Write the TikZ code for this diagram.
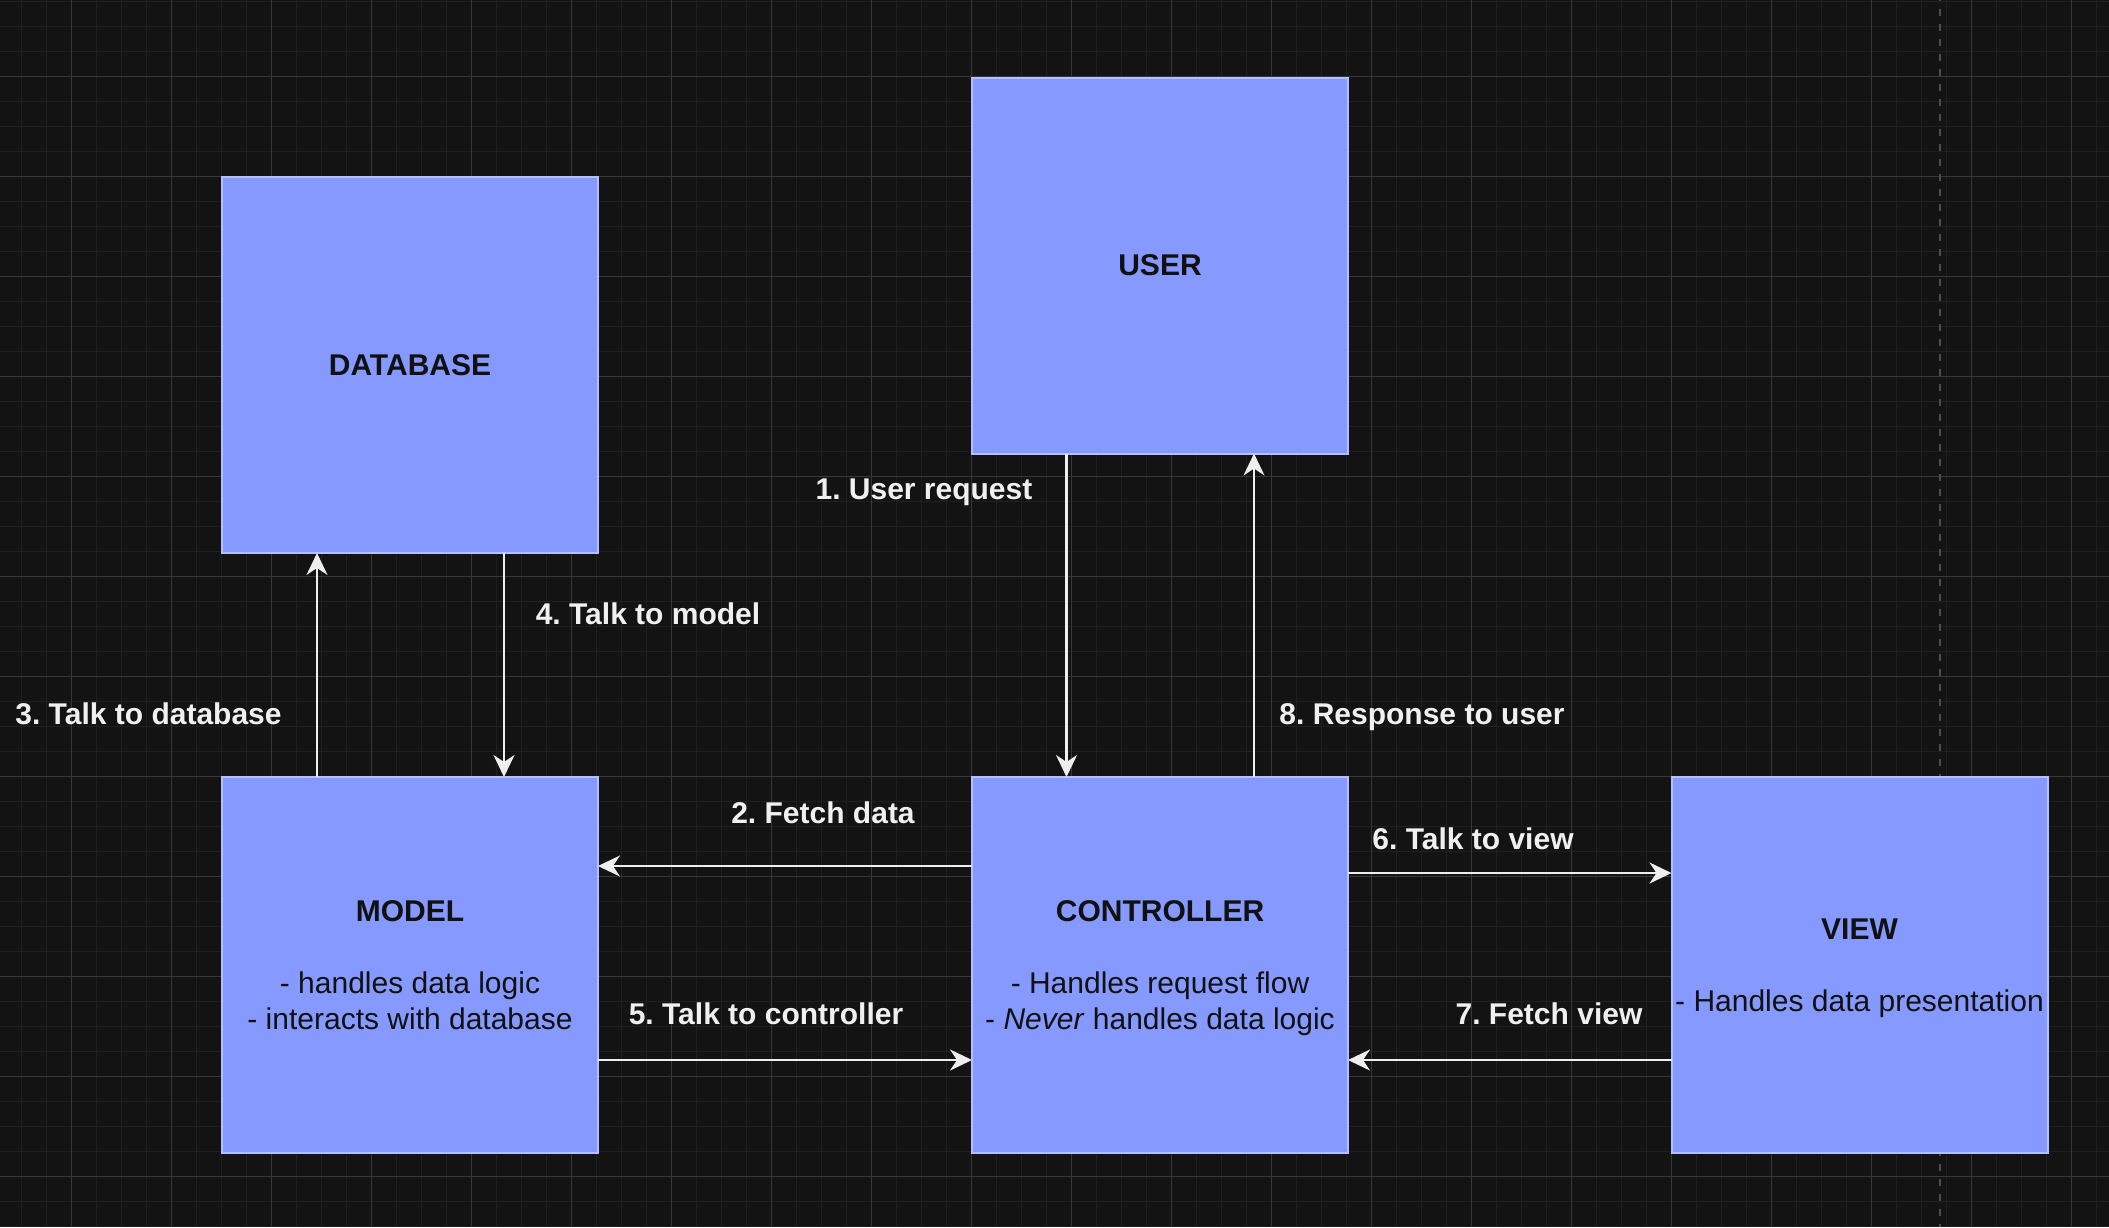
\documentclass[tikz,border=0pt]{standalone}
\usepackage{fontspec}
\setmainfont{Liberation Sans}
\frenchspacing
\usetikzlibrary{arrows.meta}
\definecolor{bgc}{HTML}{131313}
\definecolor{minorc}{HTML}{1F1F1F}
\definecolor{majorc}{HTML}{383838}
\definecolor{dashc}{HTML}{4D4D4D}
\definecolor{boxfill}{HTML}{8599FF}
\definecolor{boxline}{HTML}{B4BFFF}
\definecolor{boxtext}{HTML}{111111}
\definecolor{arrc}{HTML}{EEEEEE}
\definecolor{labc}{HTML}{F0F0F0}
\tikzset{
  mvcbox/.style={draw=boxline, line width=2pt, fill=boxfill, minimum width=376pt, minimum height=376pt,
    inner sep=0pt, outer sep=0pt, align=center, text=boxtext, text depth=0pt, font=\fontsize{30}{36}\selectfont},
  arr/.style={draw=arrc, line width=2.4pt, -{Stealth[length=22pt,width=21pt,inset=7pt]}},
  lab/.style={anchor=base, text=labc, inner sep=0pt, font=\fontsize{30}{36}\selectfont\bfseries}
}
\begin{document}
\begin{tikzpicture}[x=1pt,y=-1pt]
\useasboundingbox (0,0) rectangle (2109,1227);
\fill[bgc] (0,0) rectangle (2109,1227);
% minor grid
\foreach \i in {0,...,85} { \draw[minorc, line width=1.1pt] ({-3.6+25*\i},0) -- ({-3.6+25*\i},1227); }
\foreach \j in {0,...,49} { \draw[minorc, line width=1.1pt] (0,{1.3+25*\j}) -- (2109,{1.3+25*\j}); }
% major grid
\foreach \i in {0,...,20} { \draw[majorc, line width=1.3pt] ({71.4+100*\i},0) -- ({71.4+100*\i},1227); }
\foreach \j in {0,...,11} { \draw[majorc, line width=1.3pt] (0,{76.3+100*\j}) -- (2109,{76.3+100*\j}); }
% dashed page line
\draw[dashc, line width=2.2pt, dash pattern=on 7pt off 8pt, dash phase=6pt] (1940.3,0) -- (1940.3,1227);
% boxes
\node[mvcbox] (db) at (410,365) {\textbf{DATABASE}};
\node[mvcbox] (user) at (1160,265.5) {\textbf{USER}};
\node[mvcbox] (model) at (410,965) {\textbf{MODEL}\\\strut\\- handles data logic\\- interacts with database};
\node[mvcbox] (ctrl) at (1160,965) {\textbf{CONTROLLER}\\\strut\\- Handles request flow\\- \textit{Never} handles data logic};
\node[mvcbox] (view) at (1859.5,965) {\textbf{VIEW}\\\strut\\- Handles data presentation};
% connectors
\draw[arr] ([xshift=-93.5pt]user.south) -- ([xshift=-93.5pt]ctrl.north);
\draw[arr] ([xshift=94pt]ctrl.north) -- ([xshift=94pt]user.south);
\draw[arr] ([xshift=-93pt]model.north) -- ([xshift=-93pt]db.south);
\draw[arr] ([xshift=94pt]db.south) -- ([xshift=94pt]model.north);
\draw[arr] ([yshift=99pt]ctrl.west) -- ([yshift=99pt]model.east);
\draw[arr] ([yshift=-95pt]model.east) -- ([yshift=-95pt]ctrl.west);
\draw[arr] ([yshift=92pt]ctrl.east) -- ([yshift=92pt]view.west);
\draw[arr] ([yshift=-95pt]view.west) -- ([yshift=-95pt]ctrl.east);
% labels
\node[lab] (l1) at (924,499) {1. User request};
\node[lab] (l2) at (823,823) {2. Fetch data};
\node[lab] (l3) at (148.5,724) {3. Talk to database};
\node[lab] (l4) at (648,624) {4. Talk to model};
\node[lab] (l5) at (766,1024) {5. Talk to controller};
\node[lab] (l6) at (1473,849) {6. Talk to view};
\node[lab] (l7) at (1549,1024) {7. Fetch view};
\node[lab] (l8) at (1422,724) {8. Response to user};
\end{tikzpicture}
\end{document}
